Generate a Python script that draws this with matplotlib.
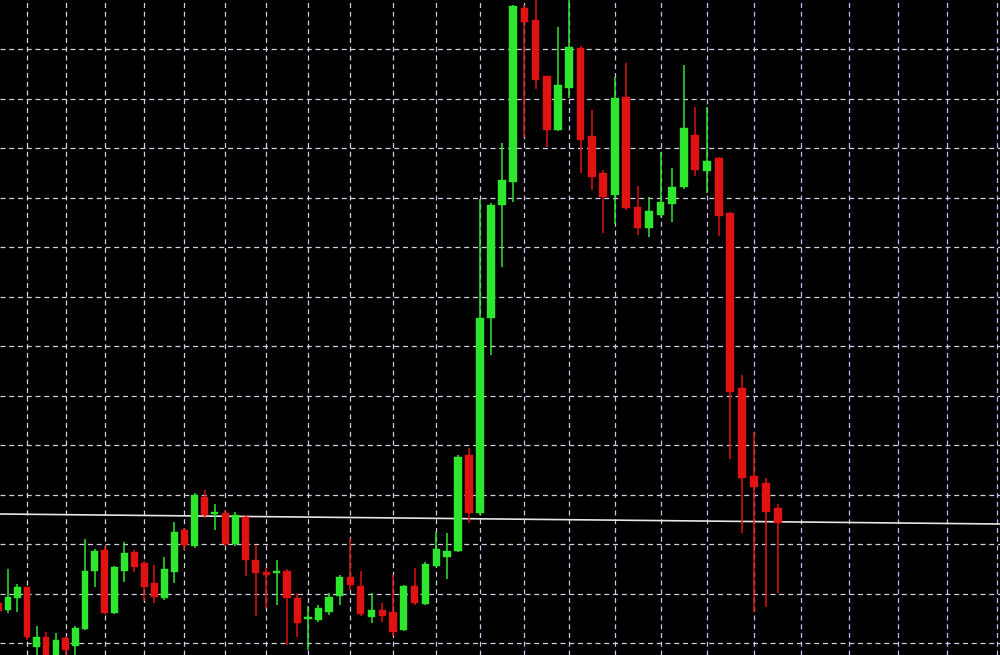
import matplotlib

matplotlib.use("Agg")
import matplotlib.pyplot as plt
import numpy as np
from matplotlib.colors import to_rgb
from matplotlib.transforms import blended_transform_factory

# Candle data, left to right (price in points)
first_bar = -1
opens = [52, 45, 57, 68, 8, 18, -3, 17, 9, 26, 84, 105, 42, 84, 103, 92, 72, 57, 83,
         125, 109, 158, 141, 142, 111, 138, 95, 83, 82, 84, 57, 36, 35, 43, 59, 78, 69,
         38, 45, 43, 25, 69, 51, 89, 98, 104, 200, 142, 337, 450, 473, 647, 635, 579,
         525, 567, 607, 519, 482, 460, 558, 448, 427, 440, 451, 468, 520, 484, 497,
         442, 267, 179, 172, 147]
highs = [55, 86, 71, 68, 29, 23, 22, 19, 29, 116, 106, 109, 89, 113, 105, 94, 90, 98,
         133, 127, 162, 165, 151, 145, 143, 140, 110, 87, 95, 86, 62, 49, 50, 62, 80,
         117, 84, 62, 52, 80, 70, 87, 93, 123, 122, 200, 207, 456, 452, 512, 650, 650,
         663, 579, 628, 658, 609, 545, 485, 578, 592, 469, 458, 503, 487, 590, 548,
         548, 498, 443, 280, 223, 177, 151]
lows = [41, 42, 43, 15, -2, -8, -8, -5, -5, 25, 68, 41, 41, 73, 83, 54, 52, 55, 72,
        105, 107, 137, 125, 109, 109, 79, 39, 47, 50, 10, 18, 5, 33, 40, 50, 65, 39,
        32, 33, 19, 24, 50, 50, 88, 76, 103, 132, 140, 300, 388, 453, 518, 566, 508,
        524, 557, 482, 465, 422, 431, 445, 420, 418, 438, 433, 466, 479, 462, 419,
        196, 122, 43, 48, 62]
closes = [44, 58, 68, 18, 18, -3, 15, 5, 27, 84, 104, 42, 88, 102, 88, 68, 58, 86,
          123, 110, 160, 140, 143, 111, 140, 95, 82, 80, 84, 57, 32, 38, 47, 58, 78,
          70, 41, 45, 39, 23, 69, 52, 91, 106, 104, 198, 142, 337, 450, 475, 649, 633,
          575, 525, 570, 608, 515, 478, 458, 557, 447, 427, 444, 453, 468, 527, 485,
          494, 439, 263, 177, 168, 143, 132]

# bar positions where the chart's vertical grid falls, and the price grid
grid_bars = np.arange(2, 91, 4)
grid_levels = 12 + 49.5 * np.arange(13)

# the screen is photographed at an angle: bars widen slowly to the right
SPAN_A, SPAN_B = 9.511, 0.01639


def forward(i):
    i = np.asarray(i, dtype=float)
    return SPAN_A * i + SPAN_B * i ** 2


def inverse(p):
    p = np.asarray(p, dtype=float)
    disc = np.maximum(SPAN_A ** 2 + 4 * SPAN_B * p, 0)
    return (-SPAN_A + np.sqrt(disc)) / (2 * SPAN_B)


fig = plt.figure(figsize=(10, 6.55), dpi=100, facecolor="black")
ax = fig.add_axes([0, 0, 1, 1])
ax.set_facecolor("black")
ax.set_xscale("function", functions=(forward, inverse))
ax.set_xlim(-0.83, 90.27)
ax.set_ylim(0, 655)
ax.set_axis_off()

# dashed grid, white on the left fading to lavender on the right
left_col = np.array(to_rgb("#d6d6d6"))
right_col = np.array(to_rgb("#bdb8ff"))
for k, gx in enumerate(grid_bars):
    t = k / (len(grid_bars) - 1)
    ax.axvline(gx, color=left_col * (1 - t) + right_col * t, lw=0.9,
               ls=(0, (4, 3)), zorder=1)
for gy in grid_levels:
    ax.axhline(gy, color="#d0d0e2", lw=0.9, ls=(0, (4, 3)), zorder=1)

# horizontal price line (tilted by the camera angle)
blend = blended_transform_factory(ax.transAxes, ax.transData)
ax.plot([0, 1], [141, 131], color="#e6e6e6", lw=1.2, transform=blend, zorder=2)

# candles
o = np.array(opens, dtype=float)
h = np.array(highs, dtype=float)
l = np.array(lows, dtype=float)
c = np.array(closes, dtype=float)
x = np.arange(first_bar, first_bar + len(o))
up = c >= o
colors = np.where(up, "#2fe62f", "#e01212")

ax.vlines(x, l, h, colors=colors, lw=1.1, zorder=3)
body_bottom = np.minimum(o, c)
body_height = np.maximum(np.abs(c - o), 2)
ax.bar(x, body_height, bottom=body_bottom, width=0.68, color=colors,
       edgecolor=colors, linewidth=0.3, zorder=4)

fig.savefig("out.png", dpi=100, facecolor="black")
